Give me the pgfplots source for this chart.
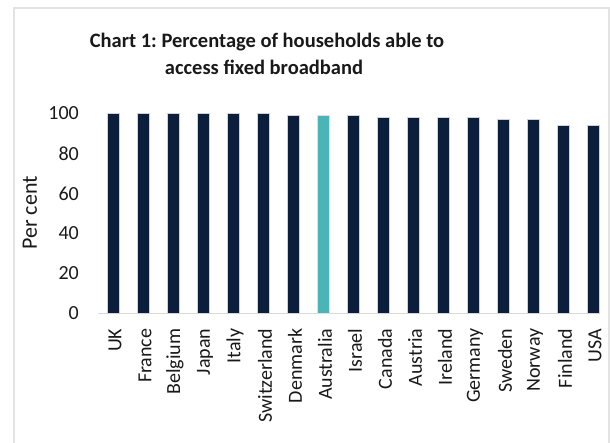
\documentclass[border=0pt]{standalone}
\usepackage{pgfplots}
\pgfplotsset{compat=1.18}
\usepackage{fontspec}
\setmainfont{Carlito}
\definecolor{navy}{HTML}{0B1F3D}
\definecolor{tealbar}{HTML}{4BB4B6}
\definecolor{framegray}{HTML}{E3E3E3}
\definecolor{axisgray}{HTML}{D9D9D9}
\begin{document}
\frenchspacing
\begin{tikzpicture}[x=1pt,y=1pt]
\useasboundingbox (0,0) rectangle (610,443);
\draw[framegray, line width=1.5pt] (14,-5) rectangle (609,435);
\begin{axis}[
  at={(98pt,129.5pt)}, anchor=south west,
  scale only axis, width=502pt, height=200pt,
  xmin=-0.5, xmax=16.233, ymin=0, ymax=100,
  axis x line=bottom, axis y line=left,
  x axis line style={draw=axisgray, line width=1pt, -},
  y axis line style={draw=none},
  major tick length=0pt,
  ytick={0,20,40,60,80,100},
  xtick={0,...,16},
  xticklabels={UK,France,Belgium,Japan,Italy,Switzerland,Denmark,Australia,Israel,Canada,Austria,Ireland,Germany,Sweden,Norway,Finland,USA},
  ticklabel style={font=\fontsize{20}{24}\selectfont, text=black!90},
  yticklabel style={inner sep=0pt, anchor=east, xshift=-19pt},
  xticklabel style={rotate=90, anchor=east, inner sep=0pt, xshift=-15pt, yshift=-2pt},
  /pgf/number format/assume math mode=true,
  ybar, bar width=12pt, bar shift=0pt,
  clip=false,
]
\addplot[fill=navy, draw=gray!35, line width=0.6pt] coordinates {
 (0,100) (1,100) (2,100) (3,100) (4,100) (5,100) (6,99)
 (8,99) (9,98) (10,98) (11,98) (12,98) (13,97) (14,97) (15,94) (16,94)};
\addplot[fill=tealbar, draw=gray!25, line width=0.6pt] coordinates {(7,99)};
\end{axis}
\node[rotate=90, font=\fontsize{22}{26}\selectfont, text=black!90] at (30,230) {Per cent};
\node[anchor=base, font=\bfseries\fontsize{20.5}{24}\selectfont, text=black!90] at (267,395) {Chart 1: Percentage of households able to};
\node[anchor=base, font=\bfseries\fontsize{20.5}{24}\selectfont, text=black!90] at (264,368) {access fixed broadband};
\end{tikzpicture}
\end{document}
